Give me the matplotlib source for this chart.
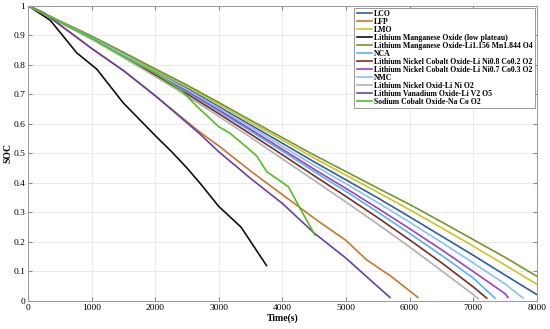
import matplotlib
matplotlib.use("Agg")
import matplotlib.pyplot as plt

# data (time in s, SOC)
t_full = [0, 500, 1000, 1500, 2000, 2500, 3000, 3500, 4000, 4500, 5000, 5500, 6000, 6500, 7000, 7500, 8000]

lco = [1.0, 0.946, 0.893, 0.836, 0.778, 0.720, 0.658, 0.596, 0.534, 0.471, 0.410, 0.349, 0.285, 0.220, 0.155, 0.088, 0.022]
lmo = [1.0, 0.947, 0.895, 0.839, 0.782, 0.726, 0.666, 0.605, 0.545, 0.484, 0.426, 0.368, 0.309, 0.248, 0.186, 0.122, 0.057]
lmo_li = [1.0, 0.948, 0.897, 0.842, 0.786, 0.731, 0.672, 0.612, 0.553, 0.494, 0.438, 0.382, 0.327, 0.268, 0.208, 0.148, 0.084]

t_nmc = [0, 500, 1000, 1500, 2000, 2500, 3000, 3500, 4000, 4500, 5000, 5500, 6000, 6500, 7000, 7500, 7783]
nmc = [1.0, 0.946, 0.892, 0.834, 0.775, 0.716, 0.653, 0.589, 0.524, 0.459, 0.397, 0.333, 0.267, 0.199, 0.129, 0.058, 0.01]

t_nc7 = [0, 500, 1000, 1500, 2000, 2500, 3000, 3500, 4000, 4500, 5000, 5500, 6000, 6500, 7000, 7500, 7548]
nc7 = [1.0, 0.945, 0.891, 0.832, 0.772, 0.711, 0.647, 0.581, 0.514, 0.446, 0.381, 0.314, 0.245, 0.174, 0.100, 0.025, 0.012]

t_nca = [0, 500, 1000, 1500, 2000, 2500, 3000, 3500, 4000, 4500, 5000, 5500, 6000, 6500, 7000, 7342]
nca = [1.0, 0.945, 0.890, 0.830, 0.769, 0.707, 0.642, 0.575, 0.507, 0.438, 0.371, 0.301, 0.229, 0.155, 0.078, 0.01]

t_nc8 = [0, 500, 1000, 1500, 2000, 2500, 3000, 3500, 4000, 4500, 5000, 5500, 6000, 6500, 7000, 7212]
nc8 = [1.0, 0.944, 0.888, 0.827, 0.765, 0.701, 0.634, 0.565, 0.495, 0.424, 0.354, 0.282, 0.207, 0.130, 0.048, 0.01]

t_lno = [0, 500, 1000, 1500, 2000, 2500, 3000, 3500, 4000, 4500, 5000, 5500, 6000, 6500, 7000, 7075]
lno = [1.0, 0.943, 0.886, 0.824, 0.760, 0.694, 0.625, 0.554, 0.481, 0.408, 0.335, 0.260, 0.183, 0.103, 0.022, 0.008]

t_lfp = [0, 250, 500, 1000, 1500, 2000, 2500, 2700, 3000, 3500, 3750, 4000, 4540, 5000, 5326, 5700, 6132]
lfp = [1.0, 0.975, 0.935, 0.855, 0.78, 0.695, 0.607, 0.572, 0.525, 0.44, 0.40, 0.36, 0.274, 0.205, 0.139, 0.085, 0.012]

t_lvo = [0, 250, 500, 1000, 1500, 2000, 2500, 2700, 3000, 3500, 4000, 4500, 5000, 5326, 5692]
lvo = [1.0, 0.975, 0.935, 0.855, 0.78, 0.695, 0.603, 0.566, 0.505, 0.415, 0.33, 0.23, 0.145, 0.082, 0.012]

t_low = [0, 350, 766, 1080, 1500, 2000, 2260, 2500, 2700, 3000, 3350, 3750]
low = [1.0, 0.95, 0.84, 0.785, 0.67, 0.56, 0.505, 0.45, 0.40, 0.32, 0.25, 0.12]

t_nco = [0, 500, 1000, 1500, 2000, 2400, 2650, 3000, 3176, 3490, 3600, 3752, 4094, 4276, 4513]
nco = [1.0, 0.945, 0.89, 0.828, 0.772, 0.715, 0.66, 0.59, 0.568, 0.511, 0.49, 0.438, 0.387, 0.314, 0.223]

series = [
    ("LCO", t_full, lco, "#2c5fa8"),
    ("LFP", t_lfp, lfp, "#c8782c"),
    ("LMO", t_full, lmo, "#cfc229"),
    ("Lithium Manganese Oxide (low plateau)", t_low, low, "#111111"),
    ("Lithium Manganese Oxide-Li1.156 Mn1.844 O4", t_full, lmo_li, "#6f9a2a"),
    ("NCA", t_nca, nca, "#4fb8ec"),
    ("Lithium Nickel Cobalt Oxide-Li Ni0.8 Co0.2 O2", t_nc8, nc8, "#7a2f1f"),
    ("Lithium Nickel Cobalt Oxide-Li Ni0.7 Co0.3 O2", t_nc7, nc7, "#a040c0"),
    ("NMC", t_nmc, nmc, "#8cc0f0"),
    ("Lithium Nickel Oxid-Li Ni O2", t_lno, lno, "#b0b0b0"),
    ("Lithium Vanadium Oxide-Li V2 O5", t_lvo, lvo, "#6b3fa8"),
    ("Sodium Cobalt Oxide-Na Co O2", t_nco, nco, "#50c020"),
]

plt.rcParams["font.family"] = ["Liberation Serif", "DejaVu Serif"]

fig = plt.figure(figsize=(5.5, 3.29), dpi=100)
ax = fig.add_axes([0.051, 0.085, 0.925, 0.898])

for name, t, y, c in series:
    ax.plot(t, y, color=c, lw=1.2, label=name)

ax.set_xlim(0, 8000)
ax.set_ylim(0, 1)
ax.set_xticks(range(0, 8001, 1000))
ax.set_yticks([i / 10 for i in range(11)])
ax.set_yticklabels(["0", "0.1", "0.2", "0.3", "0.4", "0.5", "0.6", "0.7", "0.8", "0.9", "1"])
ax.grid(True, color="#e6e6e6", lw=0.6)
ax.tick_params(direction="in", top=True, right=True, labelsize=6.8, length=3, color="#888888", pad=2)
for s in ax.spines.values():
    s.set_color("#999999")
    s.set_linewidth(0.7)

ax.set_xlabel("Time(s)", fontsize=7, fontweight="bold", labelpad=1)
ax.set_ylabel("SOC", fontsize=7, fontweight="bold", labelpad=1)

leg = ax.legend(loc="upper right", prop={"size": 5.6, "weight": "bold"}, handlelength=2.0,
                labelspacing=0.0, handletextpad=0.2, borderpad=0.3, borderaxespad=0.25,
                fancybox=False, framealpha=1, edgecolor="#888888")
leg.get_frame().set_linewidth(0.6)

fig.savefig("out.png", dpi=100)
